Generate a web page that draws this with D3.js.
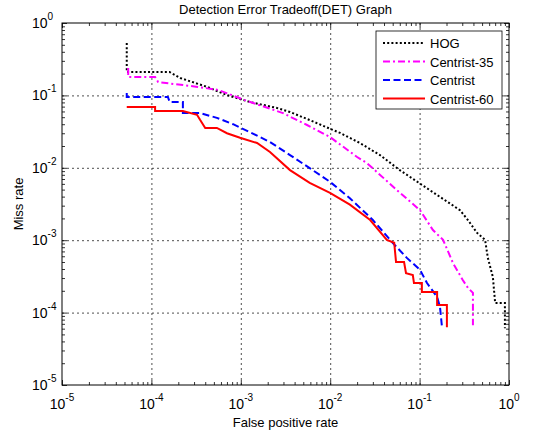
<!DOCTYPE html>
<html>
<head>
<meta charset="utf-8">
<script src="https://cdn.jsdelivr.net/npm/d3@7"></script>
<style>
  body { margin: 0; background: #fff; }
  text { font-family: "Liberation Sans", Arial, sans-serif; fill: #000; }
</style>
</head>
<body>
<svg id="chart" width="543" height="439"></svg>
<script>
// decade ticks (exponents of 10)
const tickExps = [-5, -4, -3, -2, -1, 0];
const gridExps = [-4, -3, -2, -1];

const seriesNames = ["HOG", "Centrist-35", "Centrist", "Centrist-60"];

// [false positive rate, miss rate]
const hog = [
  [5.3e-5, 0.53], [5.3e-5, 0.21], [1.6e-4, 0.21], [2.1e-4, 0.174], [4.2e-4, 0.131],
  [7.0e-4, 0.101], [1.27e-3, 0.081], [2.54e-3, 0.067], [3.55e-3, 0.059], [5.9e-3, 0.0457],
  [1.07e-2, 0.0333], [1.29e-2, 0.0303], [2.15e-2, 0.022], [3.6e-2, 0.015], [6.0e-2, 0.0093],
  [0.141, 0.0046], [0.283, 0.0026], [0.347, 0.0019], [0.44, 0.00126], [0.54, 0.00101],
  [0.58, 0.00057], [0.66, 0.00031], [0.70, 0.000136], [0.90, 0.000136], [0.90, 6.1e-5]
];
const centrist35 = [
  [5.5e-5, 0.239], [5.5e-5, 0.18], [1.1e-4, 0.18], [1.19e-4, 0.153], [3.3e-4, 0.131],
  [5.6e-4, 0.119], [1.11e-3, 0.086], [2.96e-3, 0.057], [5.5e-3, 0.039], [9.95e-3, 0.0266],
  [2.0e-2, 0.0141], [2.58e-2, 0.0116], [5.6e-2, 0.0049], [0.101, 0.0026], [0.141, 0.00138],
  [0.183, 0.00101], [0.237, 0.00048], [0.305, 0.00028], [0.347, 0.00022], [0.395, 0.000187],
  [0.395, 6.7e-5]
];
const centrist = [
  [5.3e-5, 0.108], [5.3e-5, 0.095], [1.53e-4, 0.095], [1.6e-4, 0.081], [2.25e-4, 0.081],
  [2.25e-4, 0.057], [3.5e-4, 0.057], [5.4e-4, 0.049], [8.2e-4, 0.040], [1.27e-3, 0.031],
  [2.12e-3, 0.0227], [3.55e-3, 0.015], [5.9e-3, 0.0099], [9.95e-3, 0.0064], [1.66e-2, 0.0038],
  [3.0e-2, 0.0019], [5.0e-2, 0.00092], [7.2e-2, 0.00057], [0.101, 0.00039], [0.121, 0.000256],
  [0.157, 0.000164], [0.169, 0.00012], [0.178, 6.3e-5]
];
const centrist60 = [
  [5.3e-5, 0.069], [1.1e-4, 0.069], [1.1e-4, 0.061], [2.25e-4, 0.061], [3.24e-4, 0.054],
  [3.5e-4, 0.046], [4.0e-4, 0.0355], [5.4e-4, 0.0355], [7.0e-4, 0.030], [9.8e-4, 0.026],
  [1.52e-3, 0.022], [2.12e-3, 0.0165], [3.55e-3, 0.0093], [5.9e-3, 0.0062], [9.95e-3, 0.0045],
  [1.66e-2, 0.0031], [2.8e-2, 0.0019], [4.3e-2, 0.00101], [5.2e-2, 0.00092], [5.45e-2, 0.0005],
  [6.7e-2, 0.0005], [7.05e-2, 0.00035], [8.4e-2, 0.00033], [8.65e-2, 0.000256], [0.106, 0.000256],
  [0.106, 0.000193], [0.157, 0.000193], [0.157, 0.000127], [0.202, 0.000127], [0.202, 6.3e-5]
];

const seriesData = [hog, centrist35, centrist, centrist60];

//-----------------------------------------------------------------------------

const styles = [
  { color: "#000000", dash: "2,2.2" },
  { color: "#ff00ff", dash: "7,3,2,3" },
  { color: "#0000ff", dash: "7,3.5" },
  { color: "#ff0000", dash: null }
];

const svg = d3.select("#chart");
const margin = { top: 23, right: 34, bottom: 54, left: 62 };
const width = 543 - margin.left - margin.right,
      height = 439 - margin.top - margin.bottom;

const g = svg.append("g").attr("transform", `translate(${margin.left},${margin.top})`);

const x = d3.scaleLog().domain([1e-5, 1]).range([0, width]);
const y = d3.scaleLog().domain([1e-5, 1]).range([height, 0]);

const majors = tickExps.map(e => Math.pow(10, e));
const grids = gridExps.map(e => Math.pow(10, e));
const minors = [];
tickExps.slice(0, -1).forEach(e => {
  for (let m = 2; m <= 9; m++) minors.push(m * Math.pow(10, e));
});

// grid lines (dotted)
const gridX = g.append("g")
  .attr("transform", `translate(0,${height})`)
  .call(d3.axisBottom(x).tickValues(grids).tickSize(-height).tickFormat(""));
const gridY = g.append("g")
  .call(d3.axisLeft(y).tickValues(grids).tickSize(-width).tickFormat(""));
[gridX, gridY].forEach(a => {
  a.select(".domain").remove();
  a.selectAll("line")
    .attr("stroke", "#222")
    .attr("stroke-width", 0.8)
    .attr("stroke-dasharray", "2,3");
});

// inside ticks on all four sides
function ticks(axisFn, transform, values, size) {
  const a = g.append("g")
    .attr("transform", transform)
    .call(axisFn.tickValues(values).tickSize(-size).tickFormat(""));
  a.select(".domain").remove();
  a.selectAll("line").attr("stroke", "#000").attr("stroke-width", 0.8);
}
ticks(d3.axisBottom(x), `translate(0,${height})`, majors, 5);
ticks(d3.axisBottom(x), `translate(0,${height})`, minors, 3);
ticks(d3.axisTop(x), "translate(0,0)", majors, 5);
ticks(d3.axisTop(x), "translate(0,0)", minors, 3);
ticks(d3.axisLeft(y), "translate(0,0)", majors, 5);
ticks(d3.axisLeft(y), "translate(0,0)", minors, 3);
ticks(d3.axisRight(y), `translate(${width},0)`, majors, 5);
ticks(d3.axisRight(y), `translate(${width},0)`, minors, 3);

// curves
g.append("clipPath").attr("id", "clip")
  .append("rect").attr("width", width).attr("height", height);

const line = d3.line().x(d => x(d[0])).y(d => y(d[1]));

seriesData.forEach((data, i) => {
  g.append("path")
    .datum(data)
    .attr("clip-path", "url(#clip)")
    .attr("fill", "none")
    .attr("stroke", styles[i].color)
    .attr("stroke-width", 2)
    .attr("stroke-dasharray", styles[i].dash)
    .attr("d", line);
});

// box
g.append("rect")
  .attr("width", width).attr("height", height)
  .attr("fill", "none").attr("stroke", "#000").attr("stroke-width", 1);

// tick labels with superscript exponents
tickExps.forEach(e => {
  const t = g.append("text")
    .attr("x", x(Math.pow(10, e)))
    .attr("y", height + 24)
    .attr("text-anchor", "middle")
    .attr("font-size", "14px");
  t.append("tspan").text("10");
  t.append("tspan").attr("dy", -8).attr("font-size", "10px").text(e);

  const ty = g.append("text")
    .attr("x", -30)
    .attr("y", y(Math.pow(10, e)) + 5)
    .attr("font-size", "14px");
  ty.append("tspan").text("10");
  ty.append("tspan").attr("dy", -8).attr("font-size", "10px").text(e);
});

// title and axis labels
svg.append("text")
  .attr("x", margin.left + width / 2).attr("y", 14)
  .attr("text-anchor", "middle").attr("font-size", "13px")
  .text("Detection Error Tradeoff(DET) Graph");

svg.append("text")
  .attr("x", margin.left + width / 2).attr("y", 427)
  .attr("text-anchor", "middle").attr("font-size", "13px")
  .text("False positive rate");

svg.append("text")
  .attr("transform", `translate(23,${margin.top + height / 2}) rotate(-90)`)
  .attr("text-anchor", "middle").attr("font-size", "13px")
  .text("Miss rate");

// legend
const legend = svg.append("g").attr("transform", "translate(376,31)");
legend.append("rect")
  .attr("width", 126).attr("height", 78)
  .attr("fill", "#fff").attr("stroke", "#000").attr("stroke-width", 0.8);

seriesNames.forEach((name, i) => {
  const ly = 12 + i * 18.5;
  legend.append("line")
    .attr("x1", 7).attr("x2", 49).attr("y1", ly).attr("y2", ly)
    .attr("stroke", styles[i].color)
    .attr("stroke-width", 2)
    .attr("stroke-dasharray", styles[i].dash);
  legend.append("text")
    .attr("x", 54).attr("y", ly + 5)
    .attr("font-size", "13px")
    .text(name);
});
</script>
</body>
</html>
